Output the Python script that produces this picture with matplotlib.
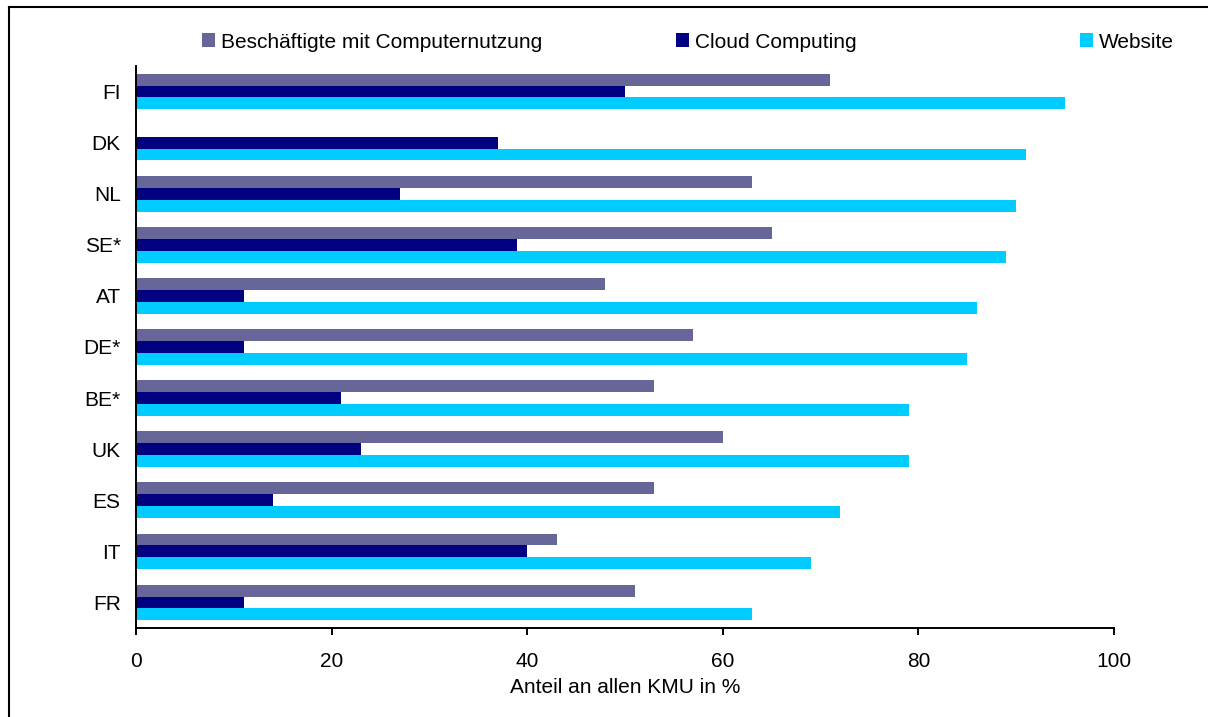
import numpy as np
import matplotlib
matplotlib.use("Agg")
import matplotlib.pyplot as plt
from matplotlib.patches import Patch
from matplotlib.lines import Line2D

plt.rcParams['font.family'] = ['Liberation Sans', 'DejaVu Sans']

countries = ["FI", "DK", "NL", "SE*", "AT", "DE*", "BE*", "UK", "ES", "IT", "FR"]
computer_use = [71, 0, 63, 65, 48, 57, 53, 60, 53, 43, 51]
cloud = [50, 37, 27, 39, 11, 11, 21, 23, 14, 40, 11]
website = [95, 91, 90, 89, 86, 85, 79, 79, 72, 69, 63]
series_names = ["Beschäftigte mit Computernutzung", "Cloud Computing", "Website"]
colors = ["#666699", "#000080", "#00CCFF"]
xticks = [0, 20, 40, 60, 80, 100]
xlabel = "Anteil an allen KMU in %"

W, H = 1208, 717
fig = plt.figure(figsize=(W / 100, H / 100), dpi=100)
ax = fig.add_axes([136 / W, 1 - 628 / H, (1114 - 136) / W, (628 - 66) / H])

y = np.arange(len(countries))
h = 0.232
ax.barh(y - h, computer_use, height=h, color=colors[0], label=series_names[0])
ax.barh(y, cloud, height=h, color=colors[1], label=series_names[1])
ax.barh(y + h, website, height=h, color=colors[2], label=series_names[2])

ax.set_ylim(len(countries) - 0.5, -0.5)
ax.set_xlim(0, 100)
ax.set_yticks(y)
ax.set_yticklabels(countries)
ax.set_xticks(xticks)
ax.set_xticklabels([str(t) for t in xticks])
ax.tick_params(axis='y', length=0, pad=11, labelsize=15)
ax.tick_params(axis='x', length=5, width=1.4, pad=12, labelsize=15, direction='out')
for s in ['top', 'right']:
    ax.spines[s].set_visible(False)
for s in ['left', 'bottom']:
    ax.spines[s].set_linewidth(1.4)
ax.set_xlabel(xlabel, fontsize=15, labelpad=5)

# legend entries placed individually
legend_x = [202, 676, 1080]
for name, col, lx in zip(series_names, colors, legend_x):
    fig.legend(handles=[Patch(facecolor=col, edgecolor='none')], labels=[name],
               loc='center left', bbox_to_anchor=(lx / W, 1 - 42 / H),
               frameon=False, fontsize=15, handlelength=0.63, handleheight=0.63,
               handletextpad=0.3, borderpad=0, borderaxespad=0)

# outer frame (left and top edges)
fig.add_artist(Line2D([9 / W, 9 / W], [0, 1 - 7 / H], transform=fig.transFigure, color='black', lw=1.5))
fig.add_artist(Line2D([9 / W, 1], [1 - 7 / H, 1 - 7 / H], transform=fig.transFigure, color='black', lw=1.5))

fig.savefig("out.png", dpi=100)
